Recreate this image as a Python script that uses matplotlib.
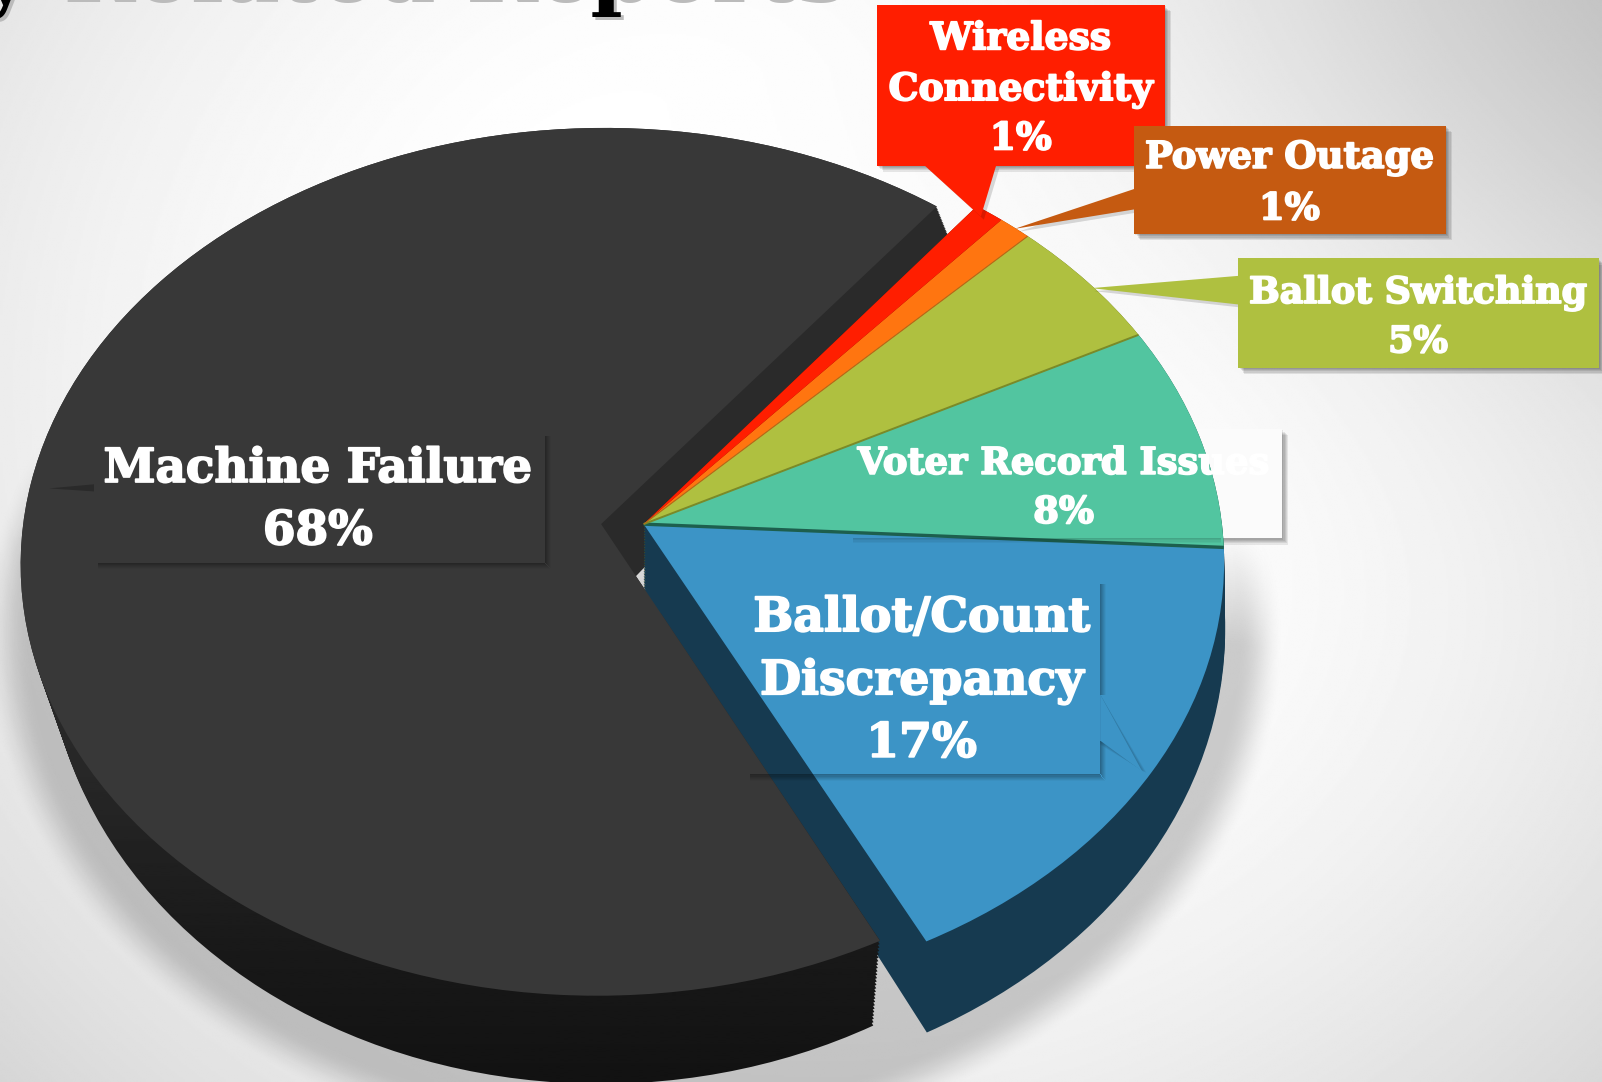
import numpy as np
import matplotlib
matplotlib.use("Agg")
import matplotlib.pyplot as plt
import matplotlib.patheffects as pe
from matplotlib.transforms import Transform
from matplotlib.patches import Polygon, Rectangle

# ---- data -------------------------------------------------------------
categories = ["Machine Failure", "Ballot/Count\nDiscrepancy", "Voter Record Issues",
              "Ballot Switching", "Power Outage", "Wireless\nConnectivity"]
values = [68.0, 16.7, 8.4, 5.0, 1.0, 0.9]
face_colors = ["#383838", "#3c94c6", "#52c5a0", "#afc040", "#ff7510", "#ff1e00"]
wall_colors = ["#2a2a2a", "#163a50", "#1f5a4c", "#5f6a20", "#8a4008", "#8a1000"]
explode = [0.074, 0, 0, 0, 0, 0]
start_angle = 52
title_text = "by Related Reports"

# ---- layout (in the 1568x1059 working space) ---------------------------
W, H = 1568, 1059
K = 0.087
TOP = dict(cx=630, cy=513, a=566, b=422)
BASE = dict(cx=630, cy=577, a=567, b=448)
DARK_TOP_SHIFT = (0, 3)
DARK_BASE_SHIFT = (2, -3)
DARK_BASE_A = -22
BACK_WALL_SHIFT = 24
N_LAYERS = 26

fig = plt.figure(figsize=(16.02, 10.82), dpi=100)
ax = fig.add_axes([0, 0, 1, 1])


class Tilt(Transform):
    input_dims = output_dims = 2
    is_separable = False
    has_inverse = False

    def __init__(self, cx, cy, a, b):
        super().__init__()
        self.p = (cx, cy, a, b)

    def transform_non_affine(self, v):
        v = np.asarray(v, float)
        cx, cy, a, b = self.p
        w = 1 + K * v[:, 1]
        return np.column_stack([cx + a * v[:, 0] / w, cy - b * v[:, 1] / w])


def level(t, shift=(0, 0), da=0):
    p = {k: TOP[k] + (BASE[k] - TOP[k]) * t for k in TOP}
    return Tilt(p["cx"] + shift[0], p["cy"] + shift[1], p["a"] + da, p["b"])


def dark_level(t, extra=0):
    return level(t, (DARK_BASE_SHIFT[0] * t + DARK_TOP_SHIFT[0] * (1 - t) + extra * t,
                     DARK_BASE_SHIFT[1] * t + DARK_TOP_SHIFT[1] * (1 - t)), DARK_BASE_A * t)


def pie_at(tf, colors):
    wedges, _ = ax.pie(values, startangle=start_angle, counterclock=True,
                       explode=explode, colors=colors, normalize=True,
                       wedgeprops=dict(linewidth=0))
    for w in wedges:
        w.set_transform(tf + ax.transData)
    return wedges


# ---- background --------------------------------------------------------
yy, xx = np.mgrid[0:H:2, 0:W:2].astype(float)
d = np.hypot((xx - 800) / 900, (yy - 380) / 820)
bg = 255 - 55 * np.clip(d - 0.38, 0, None) ** 1.6
bg -= 36 * np.exp(-(((xx - 1620) / 520) ** 2 + ((yy + 40) / 400) ** 2))
bg = np.clip(bg, 0, 255) / 255
ax.imshow(bg, cmap="gray", vmin=0, vmax=1, extent=(0, W, H, 0), aspect="auto", zorder=0,
          interpolation="bilinear")

# soft pie shadow
scx, scy, sa, sb = 620, 574, 590, 470
v = scy - yy
Y = v / (sb - K * v)
X = (xx - scx) * (1 + K * Y) / sa
rho = np.hypot(X, Y)
edge = np.clip((1.075 - rho) / 0.075, 0, 1)
edge = edge * edge * (3 - 2 * edge)
start = 420 + (xx / W) * 130
fade = np.clip((yy - start) / 110, 0, 1)
shadow = np.zeros(xx.shape + (4,))
shadow[..., 3] = 0.19 * edge * fade
ax.imshow(shadow, extent=(0, W, H, 0), aspect="auto", zorder=0.5, interpolation="bilinear")

# ---- walls, back part of the dark slice behind --------------------------
IM_TOP = 600
ts = np.linspace(1, 0, N_LAYERS)
grad_back = np.full((2, 2), 0x2a / 255)
for t in ts:
    w = pie_at(dark_level(t, BACK_WALL_SHIFT), wall_colors)
    for x in w[1:]:
        x.remove()
    w[0].set_visible(False)
    im = ax.imshow(grad_back, cmap="gray", vmin=0, vmax=1, extent=(0, 1040, IM_TOP, 0),
                   aspect="auto", zorder=1)
    im.set_clip_path(w[0])
for t in ts:
    w = pie_at(level(t), wall_colors)
    w[0].remove()
    for x in w[1:]:
        x.set_zorder(3)


def rect(x0, y0, x1, y1, **kw):
    r = Rectangle((x0, y0), x1 - x0, y1 - y0, linewidth=0, **kw)
    ax.add_patch(r)
    return r


def box_shadow(x0, y0, x1, y1, z, alpha=0.13, off=6, n=5):
    for i in range(n):
        o = off * (i + 1) / n
        rect(x0 + o, y0 + o, x1 + o, y1 + o, facecolor="black", alpha=alpha, zorder=z)


# translucent box of the Voter Record label, seen outside the pie
box_shadow(830, 420, 1255, 527, 2.2, alpha=0.08)
rect(830, 420, 1255, 527, facecolor="#fbfbfb", zorder=2.4)

# ---- top faces of coloured slices ---------------------------------------
tops = pie_at(level(0), face_colors)
tops[0].remove()
for w in tops[1:]:
    w.set_zorder(4)

# boundary lines between coloured slices, from cumulative values
cum = np.cumsum(values) / np.sum(values) * 360 + start_angle
line_cols = ["#1d5f4e", "#7a8a28", "#b56a18"]
line_w = [2.4, 1.4, 0.8]
for j, ang in enumerate(cum[1:4]):
    th = np.deg2rad(ang)
    ax.plot([0, np.cos(th)], [0, np.sin(th)], color=line_cols[j], lw=line_w[j],
            transform=level(0) + ax.transData, zorder=4.5, solid_capstyle="butt")
for i in range(1, 5):
    rect(835, 527 + i - 1, 1195, 527 + i, facecolor="black", alpha=0.2 - 0.04 * i, zorder=4.6)

# ---- front wall of the dark slice, shaded by height --------------------
grad_y = np.linspace(IM_TOP, H, 256)[:, None]
grad = np.interp(grad_y, [600, 760, 930, 1059], [0x2c, 0x27, 0x19, 0x12]) / 255
for t in ts:
    w = pie_at(dark_level(t), wall_colors)
    for x in w[1:]:
        x.remove()
    w[0].set_visible(False)
    im = ax.imshow(grad, cmap="gray", vmin=0, vmax=1, extent=(0, 1040, H, IM_TOP),
                   aspect="auto", zorder=6)
    im.set_clip_path(w[0])

# dark top face
dark_top = pie_at(level(0, DARK_TOP_SHIFT), face_colors)
for w in dark_top[1:]:
    w.remove()
dark_top[0].set_zorder(7)

# ---- callouts ----------------------------------------------------------
boxes = {
    "red": ((858, 5, 1140, 162), [(905, 162), (960, 212), (975, 162)], face_colors[5]),
    "orange": ((1110, 123, 1415, 229), [(1110, 185), (993, 224), (1110, 205)], "#c55a11"),
    "olive": ((1212, 253, 1565, 360), [(1212, 270), (1068, 282), (1212, 298)], face_colors[3]),
}
for z, ((x0, y0, x1, y1), tri, col) in zip((8, 8.2, 8.4), boxes.values()):
    box_shadow(x0, y0, x1, y1, z, alpha=0.09)
    ax.add_patch(Polygon([(a + 3, b + 3) for a, b in tri], closed=True, facecolor="black",
                         alpha=0.14, linewidth=0, zorder=z))
    ax.add_patch(Polygon(tri, closed=True, facecolor=col, linewidth=0, zorder=z + 0.05))
    rect(x0, y0, x1, y1, facecolor=col, zorder=z + 0.1)

# labels drawn only as a soft shadow on their own slice
Z_SH = 7.5
for x0, y0, x1, y1, gaps in ((92, 423, 533, 551, [(427, 551)]),
                             (730, 568, 1077, 758, [(572, 680), (725, 758)])):
    for i in range(1, 7):
        a = 0.36 - 0.055 * i
        rect(x0 + 4, y1 + i - 1, x1 + i - 1, y1 + i, facecolor="black", alpha=a, zorder=Z_SH)
        for g0, g1 in gaps:
            rect(x1 + i - 1, g0, x1 + i, g1 + (i - 1 if g1 == y1 else 0), facecolor="black",
                 alpha=a, zorder=Z_SH)
ax.add_patch(Polygon([(92, 474), (48, 478), (92, 481)], closed=True, facecolor="#2a2a2a",
                     linewidth=0, zorder=7.5))
# Ballot/Count pointer
for i in range(1, 5):
    ax.add_patch(Polygon([(1077, 680), (1118 + i, 755 + i * 0.3), (1077, 725 + i)], closed=True,
                         facecolor="black", alpha=0.05, linewidth=0, zorder=7.6))
ax.add_patch(Polygon([(1077, 680), (1118, 755), (1077, 725)], closed=True,
                     facecolor=face_colors[1], linewidth=0, zorder=7.7))

# ---- text ---------------------------------------------------------------
ax.set_xlim(0, W)
ax.set_ylim(H, 0)
ax.set_aspect("auto")
ax.axis("off")
renderer = fig.canvas.get_renderer()
SCALE = 1602 / W

label_pos = [(311, [459, 520], 420), (902, [605, 667, 728], 330), (1041, [454, 502], 403),
             (1388, [287, 335], 331), (1262, [155, 205], 283), (999, [38, 88, 136], 259)]
FONT = "DejaVu Serif"
for name, val, (cx, ys, width) in zip(categories, values, label_pos):
    lines = name.split("\n") + [f"{round(val)}%"]
    longest = max(lines, key=len)
    probe = ax.text(0, 0, longest, fontsize=20, family=FONT, fontweight="bold")
    wpx = probe.get_window_extent(renderer).width
    probe.remove()
    size = 20 * width * SCALE / wpx
    for s, y in zip(lines, ys):
        ax.text(cx, y, s, ha="center", va="center", color="white", fontsize=size,
                family=FONT, fontweight="bold", zorder=9,
                path_effects=[pe.withStroke(linewidth=1.3, foreground="white")])

for off, col in ((3, "#bbbbbb"), (0, "black")):
    ax.text(826 + off, -1 + off, title_text, ha="right", va="baseline", color=col, fontsize=62.5,
            family=FONT, fontweight="bold", zorder=9)

fig.savefig("out.png", dpi=100)
